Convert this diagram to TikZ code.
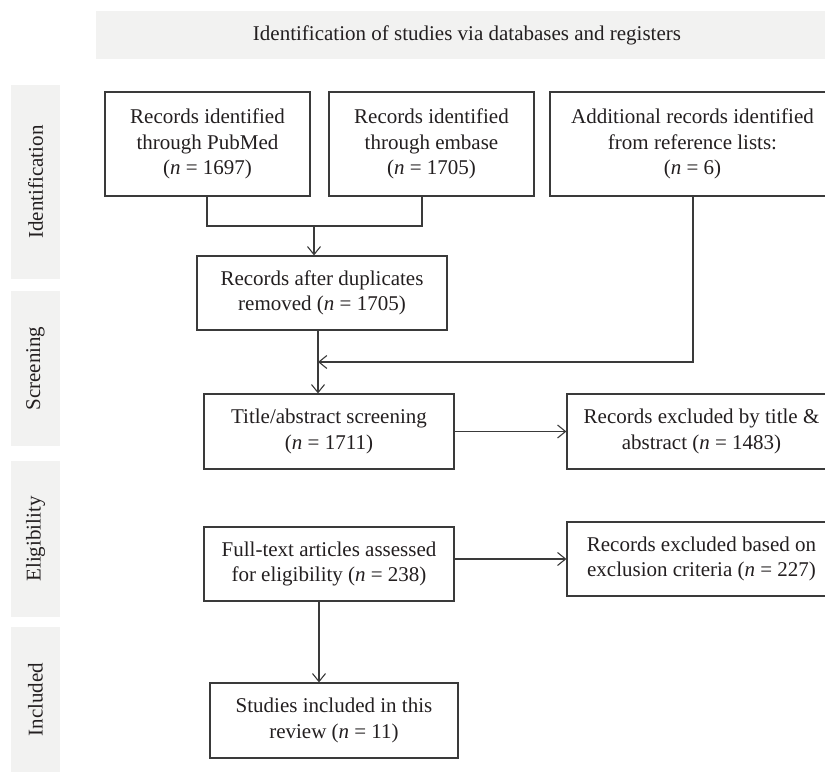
\documentclass[tikz,border=0pt]{standalone}
\usepackage{fontspec}
\setmainfont{Liberation Serif}
\usetikzlibrary{arrows.meta}
\definecolor{bandc}{HTML}{F2F2F1}
\definecolor{linec}{HTML}{3A3A3A}
\definecolor{textc}{HTML}{231F20}
\tikzset{
  txt/.style={font=\fontsize{21}{25.5}\selectfont, text=textc},
  flowbox/.style={txt, draw=linec, line width=1.2pt, align=center, inner sep=0pt},
  band/.style={fill=bandc, draw=none},
  conn/.style={draw=linec, line width=1.2pt},
  arr/.style={conn, -{Straight Barb[length=8pt,width=13pt,line width=1.1pt]}}
}
\begin{document}
\begin{tikzpicture}[x=1pt,y=-1pt]
\clip (0,0) rectangle (825,773);
\fill[white] (0,0) rectangle (825,773);
% title band
\fill[band] (96,11) rectangle (840,59);
\node[txt] (title) at (467,35) {Identification of studies via databases and registers};
% side bands
\fill[band] (11,85) rectangle (60,279);
\fill[band] (11,291) rectangle (60,446);
\fill[band] (11,461) rectangle (60,617);
\fill[band] (11,627) rectangle (60,772);
\node[txt,rotate=90] (sIdent) at (35.5,182) {Identification};
\node[txt,rotate=90] (sScreen) at (35.5,368.5) {Screening};
\node[txt,rotate=90] (sElig) at (35.5,539) {Eligibility};
\node[txt,rotate=90] (sIncl) at (35.5,699.5) {Included};
% boxes
\node[flowbox, minimum width=205pt, minimum height=104pt] (pub) at (207.5,144)
  {Records identified\\through PubMed\\(\textit{n} = 1697)};
\node[flowbox, minimum width=205pt, minimum height=104pt] (emb) at (431.5,144)
  {Records identified\\through embase\\(\textit{n} = 1705)};
\node[flowbox, minimum width=285pt, minimum height=104pt] (add) at (692.5,144)
  {Additional records identified\\from reference lists:\\(\textit{n} = 6)};
\node[flowbox, minimum width=250pt, minimum height=74pt] (dup) at (322,293)
  {Records after duplicates\\removed (\textit{n} = 1705)};
\node[flowbox, minimum width=250pt, minimum height=75pt] (scr) at (329,431.5)
  {Title/abstract screening\\(\textit{n} = 1711)};
\node[flowbox, minimum width=269pt, minimum height=75pt] (ex1) at (701.5,431.5)
  {Records excluded by title \&\\abstract (\textit{n} = 1483)};
\node[flowbox, minimum width=250pt, minimum height=74pt] (full) at (329,564)
  {Full-text articles assessed\\for eligibility (\textit{n} = 238)};
\node[flowbox, minimum width=269pt, minimum height=74pt] (ex2) at (701.5,559)
  {Records excluded based on\\exclusion criteria (\textit{n} = 227)};
\node[flowbox, minimum width=248pt, minimum height=75pt] (inc) at (334,720.5)
  {Studies included in this\\review (\textit{n} = 11)};
% connectors
\coordinate (jL) at (207,226);
\coordinate (jR) at (422,226);
\coordinate (jM) at (314,226);
\coordinate (j2) at (318,362);
\coordinate (aC) at (693,362);
\draw[conn] (pub.south -| jL) -- (jL) -- (jR) -- (emb.south -| jR);
\draw[arr] (jM) -- (dup.north -| jM);
\draw[arr] (dup.south -| j2) -- (scr.north -| j2);
\draw[arr] (add.south -| aC) -- (aC) -- (j2);
\draw[arr] (scr.east) -- (ex1.west);
\draw[arr] (full.east |- ex2.west) -- (ex2.west);
\coordinate (fC) at (319,601);
\draw[arr] (full.south -| fC) -- (inc.north -| fC);
\end{tikzpicture}
\end{document}
